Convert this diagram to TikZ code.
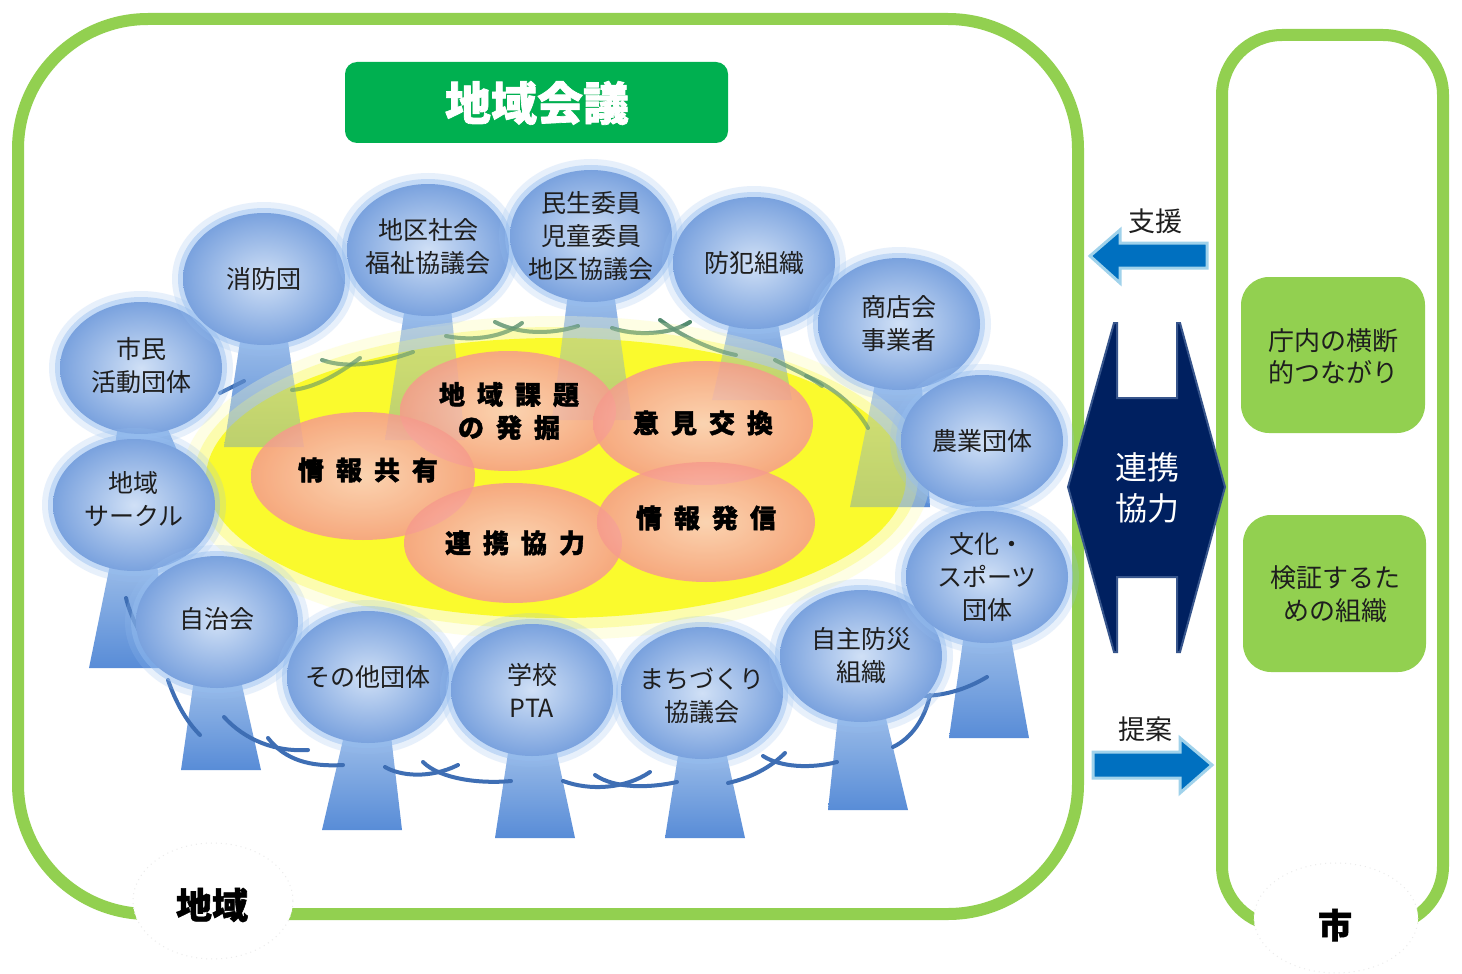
\documentclass[tikz,border=0pt]{standalone}
\usepackage{fontspec}
\setmainfont{Noto Sans CJK JP}
\newfontfamily\heavyfont[FakeBold=1.5]{Noto Sans CJK JP}
\usetikzlibrary{shapes.geometric}
\definecolor{framegreen}{RGB}{146,208,80}
\definecolor{titlegreen}{RGB}{0,176,80}
\definecolor{boxgreen}{RGB}{146,208,80}
\definecolor{navy}{RGB}{0,32,96}
\definecolor{navyedge}{RGB}{55,85,140}
\definecolor{arrowblue}{RGB}{0,112,192}
\definecolor{arrowedge}{RGB}{160,210,235}
\definecolor{ballin}{RGB}{208,224,246}
\definecolor{ballout}{RGB}{122,162,222}
\definecolor{ballglow}{RGB}{150,190,240}
\definecolor{stemtop}{RGB}{160,192,234}
\definecolor{stembot}{RGB}{88,140,215}
\definecolor{yel}{RGB}{250,250,45}
\definecolor{pinkin}{RGB}{251,205,200}
\definecolor{pinkout}{RGB}{246,155,140}
\definecolor{armgreen}{RGB}{84,140,112}
\definecolor{armblue}{RGB}{62,110,180}
\definecolor{txt}{RGB}{30,30,30}
\tikzset{
  lbl/.style={align=center, text=txt, inner sep=0pt, font=\fontsize{12.5}{16.5}\selectfont},
  pinklbl/.style={align=center, text=black, inner sep=0pt, font=\heavyfont\bfseries\fontsize{13}{16.5}\selectfont},
  stemshade/.style={top color=stemtop, bottom color=stembot},
  armg/.style={draw=armgreen, line width=2pt, line cap=round},
  armb/.style={draw=armblue, line width=2pt, line cap=round},
  pinkshade/.style={inner color=pinkin, outer color=pinkout, fill opacity=0.85},
  bluearrow/.style={fill=arrowblue, draw=arrowedge, line width=1.5pt, line join=miter},
}
\newcommand\gap{\hspace{6pt}}
\newcommand\stemat[5][]{% opts, cx, top y, bottom y, bottom cx
  \shade[stemshade,#1] (#2-22,#3) -- (#2+22,#3) -- (#5+40,#4) -- (#5-40,#4) -- cycle;}
\newcommand\topstems[1][]{%
  \stemat[#1]{264}{329}{447}{264}
  \stemat[#1]{428}{300}{440}{425}
  \stemat[#1]{591}{286}{420}{592}
  \stemat[#1]{754}{313}{400}{752}
  \stemat[#1]{899}{374}{507}{890}}
\newcommand\toparms[1][]{%
  \draw[armg,#1] (292,390) .. controls (315,388) and (340,373) .. (360,358);
  \draw[armg,#1] (413,352) .. controls (385,362) and (350,370) .. (322,360);
  \draw[armg,#1] (446,336) .. controls (475,342) and (505,336) .. (522,323);
  \draw[armg,#1] (578,326) .. controls (550,335) and (518,334) .. (495,322);
  \draw[armg,#1] (612,328) .. controls (635,336) and (670,335) .. (690,322);
  \draw[armg,#1] (736,355) .. controls (710,350) and (680,335) .. (660,320);
  \draw[armg,#1] (775,360) .. controls (790,368) and (808,375) .. (822,386);
  \draw[armg,#1] (868,428) .. controls (855,405) and (830,385) .. (806,376);}
\newcommand\ballat[5][0]{% text shift, name, cx, cy, text
  \fill[ballglow, opacity=0.22] (#3,#4) ellipse [x radius=92, y radius=77];
  \fill[ballglow, opacity=0.45] (#3,#4) ellipse [x radius=86, y radius=71];
  \shade[inner color=ballin, outer color=ballout] (#3,#4) ellipse [x radius=81, y radius=66];
  \node[lbl] (#2) at (#3,#4+#1) {#5};}
\begin{document}
\begin{tikzpicture}[x=0.5pt,y=-0.5pt]
\useasboundingbox (0,0) rectangle (1462,974);
\fill[white] (0,0) rectangle (1462,974);
% frames
\draw[framegreen, line width=6pt, rounded corners=65pt] (18,19) rectangle (1078,914);
\draw[framegreen, line width=6pt, rounded corners=30pt] (1222,35) rectangle (1443,926);
% frame labels
\fill[white] (213,901) ellipse [x radius=80, y radius=58];
\draw[black!8, dotted, line width=0.5pt] (213,901) ellipse [x radius=80, y radius=58];
\node[font=\heavyfont\bfseries\fontsize{18}{20}\selectfont, inner sep=0pt] (chiiki) at (212,905) {地域};
\fill[white] (1336,918) ellipse [x radius=82, y radius=55];
\draw[black!8, dotted, line width=0.5pt] (1336,918) ellipse [x radius=82, y radius=55];
\node[font=\heavyfont\bfseries\fontsize{17}{20}\selectfont, inner sep=0pt] (shi) at (1335,925) {市};
% title
\fill[titlegreen, rounded corners=6pt] (345,62) rectangle (728,143);
\node[text=white, inner sep=0pt, font=\heavyfont\bfseries\fontsize{23}{26}\selectfont] (title) at (537,103) {地域会議};
% stems
\stemat{141}{418}{480}{150}
\topstems
\stemat{134}{555}{668}{129}
\stemat{217}{672}{770}{221}
\stemat{368}{727}{830}{362}
\stemat{532}{740}{838}{535}
\stemat{702}{743}{838}{705}
\stemat{861}{706}{810}{868}
\stemat{987}{627}{738}{989}
% arms (top, green)
\toparms
% arms (blue)
\draw[armb] (220,393) -- (244,381);
\draw[armb] (126,598) .. controls (129,610) and (134,622) .. (140,632);
\draw[armb] (200,735) .. controls (185,720) and (175,700) .. (168,680);
\draw[armb] (224,717) .. controls (245,740) and (275,752) .. (308,750);
\draw[armb] (343,765) .. controls (310,767) and (285,760) .. (268,738);
\draw[armb] (385,767) .. controls (400,776) and (430,779) .. (458,765);
\draw[armb] (511,781) .. controls (480,784) and (440,779) .. (423,762);
\draw[armb] (563,781) .. controls (590,791) and (625,789) .. (650,772);
\draw[armb] (677,782) .. controls (650,788) and (615,789) .. (595,775);
\draw[armb] (728,783) .. controls (750,778) and (770,768) .. (785,753);
\draw[armb] (837,762) .. controls (810,769) and (780,767) .. (763,756);
\draw[armb] (893,747) .. controls (912,738) and (925,718) .. (930,695);
\draw[armb] (987,677) .. controls (965,690) and (945,695) .. (925,696);
% yellow field
\fill[yel!25!white, opacity=0.5] (556,478) ellipse [x radius=374, y radius=162];
\fill[yel!55!white, opacity=0.6] (556,478) ellipse [x radius=362, y radius=151];
\fill[yel] (556,478) ellipse [x radius=350, y radius=140];
% stems and arms seen through the yellow
\topstems[opacity=0.38]
\toparms[opacity=0.55]
% pink fields
\shade[pinkshade] (508,411) ellipse [x radius=108, y radius=60];
\shade[pinkshade] (703,423) ellipse [x radius=110, y radius=62];
\shade[pinkshade] (363,476) ellipse [x radius=112, y radius=64];
\shade[pinkshade] (513,543) ellipse [x radius=109, y radius=60];
\shade[pinkshade] (706,522) ellipse [x radius=109, y radius=60];
\node[pinklbl] (kadai) at (509,411) {地\gap 域\gap 課\gap 題\\の\gap 発\gap 掘};
\node[pinklbl] (iken) at (703,423) {意\gap 見\gap 交\gap 換};
\node[pinklbl] (kyoyu) at (368,470) {情\gap 報\gap 共\gap 有};
\node[pinklbl] (renkei) at (515,543) {連\gap 携\gap 協\gap 力};
\node[pinklbl] (hasshin) at (706,518) {情\gap 報\gap 発\gap 信};
% balls
\ballat[-3]{shimin}{141}{368}{市民\\活動団体}
\ballat{shobo}{264}{279}{消防団}
\ballat[-3]{chiku}{428}{250}{地区社会\\福祉協議会}
\ballat{minsei}{591}{236}{民生委員\\児童委員\\地区協議会}
\ballat{bohan}{754}{263}{防犯組織}
\ballat{shoten}{899}{324}{商店会\\事業者}
\ballat{nogyo}{982}{441}{農業団体}
\ballat[-6]{circle}{134}{505}{地域\\サークル}
\ballat[-3]{jichi}{217}{622}{自治会}
\ballat{sonota}{368}{677}{その他団体}
\ballat{gakko}{532}{690}{学校\\PTA}
\ballat[3]{machi}{702}{693}{まちづくり\\協議会}
\ballat{jishu}{861}{656}{自主防災\\組織}
\ballat{bunka}{987}{577}{文化・\\スポーツ\\団体}
% double arrow
\filldraw[fill=navy, draw=navyedge, line width=1pt, line join=miter]
  (1068,487) -- (1114,323) -- (1117,323) -- (1117,398) -- (1177,398) -- (1177,323) -- (1180,323)
  -- (1225,487) -- (1180,652) -- (1177,652) -- (1177,577) -- (1117,577) -- (1117,652) -- (1114,652) -- cycle;
\node[text=white, align=center, inner sep=0pt, font=\fontsize{16}{20.5}\selectfont] (kyoryoku) at (1147,488) {連携\\協力};
% support / proposal arrows
\filldraw[bluearrow] (1207,243) -- (1120,243) -- (1120,230) -- (1090,256) -- (1120,283) -- (1120,268) -- (1207,268) -- cycle;
\node[lbl, font=\fontsize{13.5}{16}\selectfont] (shien) at (1155,221) {支援};
\filldraw[bluearrow] (1093,752) -- (1180,752) -- (1180,738) -- (1212,765) -- (1180,793) -- (1180,778) -- (1093,778) -- cycle;
\node[lbl, font=\fontsize{13.5}{16}\selectfont] (teian) at (1145,729) {提案};
% city boxes
\fill[boxgreen, rounded corners=14pt] (1241,277) rectangle (1425,433);
\node[lbl, font=\fontsize{13}{16}\selectfont] (ounai) at (1333,356) {庁内の横断\\的つながり};
\fill[boxgreen, rounded corners=14pt] (1243,515) rectangle (1426,672);
\node[lbl, font=\fontsize{13}{16.5}\selectfont] (kensho) at (1335,594) {検証するた\\めの組織};
\end{tikzpicture}
\end{document}
